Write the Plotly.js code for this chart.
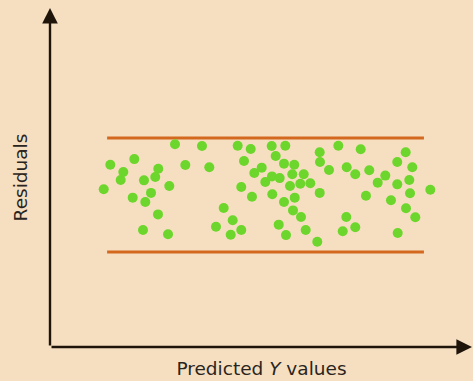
<!DOCTYPE html>
<html>
<head>
<meta charset="utf-8">
<script src="https://cdn.plot.ly/plotly-3.0.1.min.js"></script>
<style>
html,body{margin:0;padding:0;background:#f6dfc0;}
#chart{width:473px;height:381px;}
</style>
</head>
<body>
<div id="chart"></div>
<script>
// Predicted values (x) and residuals (y)
const predicted = [2.955,3.593,1.426,1.993,1.733,1.671,2.560,3.199,3.766,2.222,2.489,1.270,2.820,2.388,1.955,2.253,2.553,2.199,2.790,3.924,
  4.437,4.745,5.241,5.563,6.376,5.336,4.586,5.005,5.532,5.775,6.383,4.830,5.248,5.430,5.728,5.998,6.596,5.090,5.674,5.917,6.154,4.522,6.376,4.775,5.255,5.532,5.785,4.106,5.745,4.319,5.934,4.522,4.272,5.407,5.579,6.045,6.319,
  6.816,7.345,8.409,7.014,7.217,7.548,8.210,8.565,7.927,7.747,8.494,8.210,7.470,8.511,8.991,8.061,8.416,8.636,7.005,6.920,7.217,8.220];
const residuals = [2.67,2.58,1.59,1.89,1.21,0.79,1.38,1.58,1.46,0.77,0.95,0.30,0.47,0.11,-0.14,-0.37,-1.02,-1.84,-2.07,-1.67,
  2.59,2.42,2.58,2.59,2.25,2.05,1.79,1.44,1.65,1.59,1.74,1.16,0.98,0.89,1.09,1.09,1.32,0.68,0.47,0.59,0.62,0.42,0.11,-0.09,0.04,-0.37,-0.14,-0.68,-0.81,-1.33,-1.16,-1.84,-2.09,-1.56,-2.11,-1.84,-2.46,
  2.59,2.41,2.25,1.46,1.09,1.30,1.74,1.46,1.02,0.65,0.79,0.56,-0.04,0.09,0.28,-0.28,-0.70,-1.17,-1.16,-1.91,-1.70,-2.00];
// Band limits
const bandX = [1.35, 8.84];
const upperLimit = 3;
const lowerLimit = -3;

const xRange = [0, 10];
const yRange = [-8, 9.842];

const orange = '#d2691f';
const green = '#6dd62c';
const dark = '#1e140a';

const traces = [
  {x: bandX, y: bandX.map(() => upperLimit), mode: 'lines', line: {color: orange, width: 2.8}, hoverinfo: 'skip'},
  {x: bandX, y: bandX.map(() => lowerLimit), mode: 'lines', line: {color: orange, width: 2.8}, hoverinfo: 'skip'},
  {x: predicted, y: residuals, mode: 'markers', marker: {color: green, size: 10, line: {width: 0}}}
];

const layout = {
  width: 473, height: 381,
  paper_bgcolor: '#f6dfc0', plot_bgcolor: '#f6dfc0',
  margin: {l: 50, r: 0, t: 8, b: 34},
  showlegend: false,
  font: {family: '"DejaVu Sans", sans-serif', color: '#2a2420', size: 18.5},
  xaxis: {range: xRange, showgrid: false, zeroline: false, showline: false, showticklabels: false, ticks: '',
    title: {text: 'Predicted <i>Y</i> values', font: {size: 18.5}, standoff: 15}},
  yaxis: {range: yRange, showgrid: false, zeroline: false, showline: false, showticklabels: false, ticks: '',
    title: {text: 'Residuals', font: {size: 18.5}, standoff: 16}},
  annotations: [
    {xref: 'paper', yref: 'paper', x: 1, y: 0, ax: -423, ay: 0, text: '', showarrow: true,
      arrowhead: 2, arrowsize: 1.3, arrowwidth: 2.4, arrowcolor: dark},
    {xref: 'paper', yref: 'paper', x: 0, y: 1, ax: 0, ay: 339, text: '', showarrow: true,
      arrowhead: 2, arrowsize: 1.3, arrowwidth: 2.4, arrowcolor: dark}
  ]
};

Plotly.newPlot('chart', traces, layout, {displayModeBar: false, staticPlot: true});
</script>
</body>
</html>
